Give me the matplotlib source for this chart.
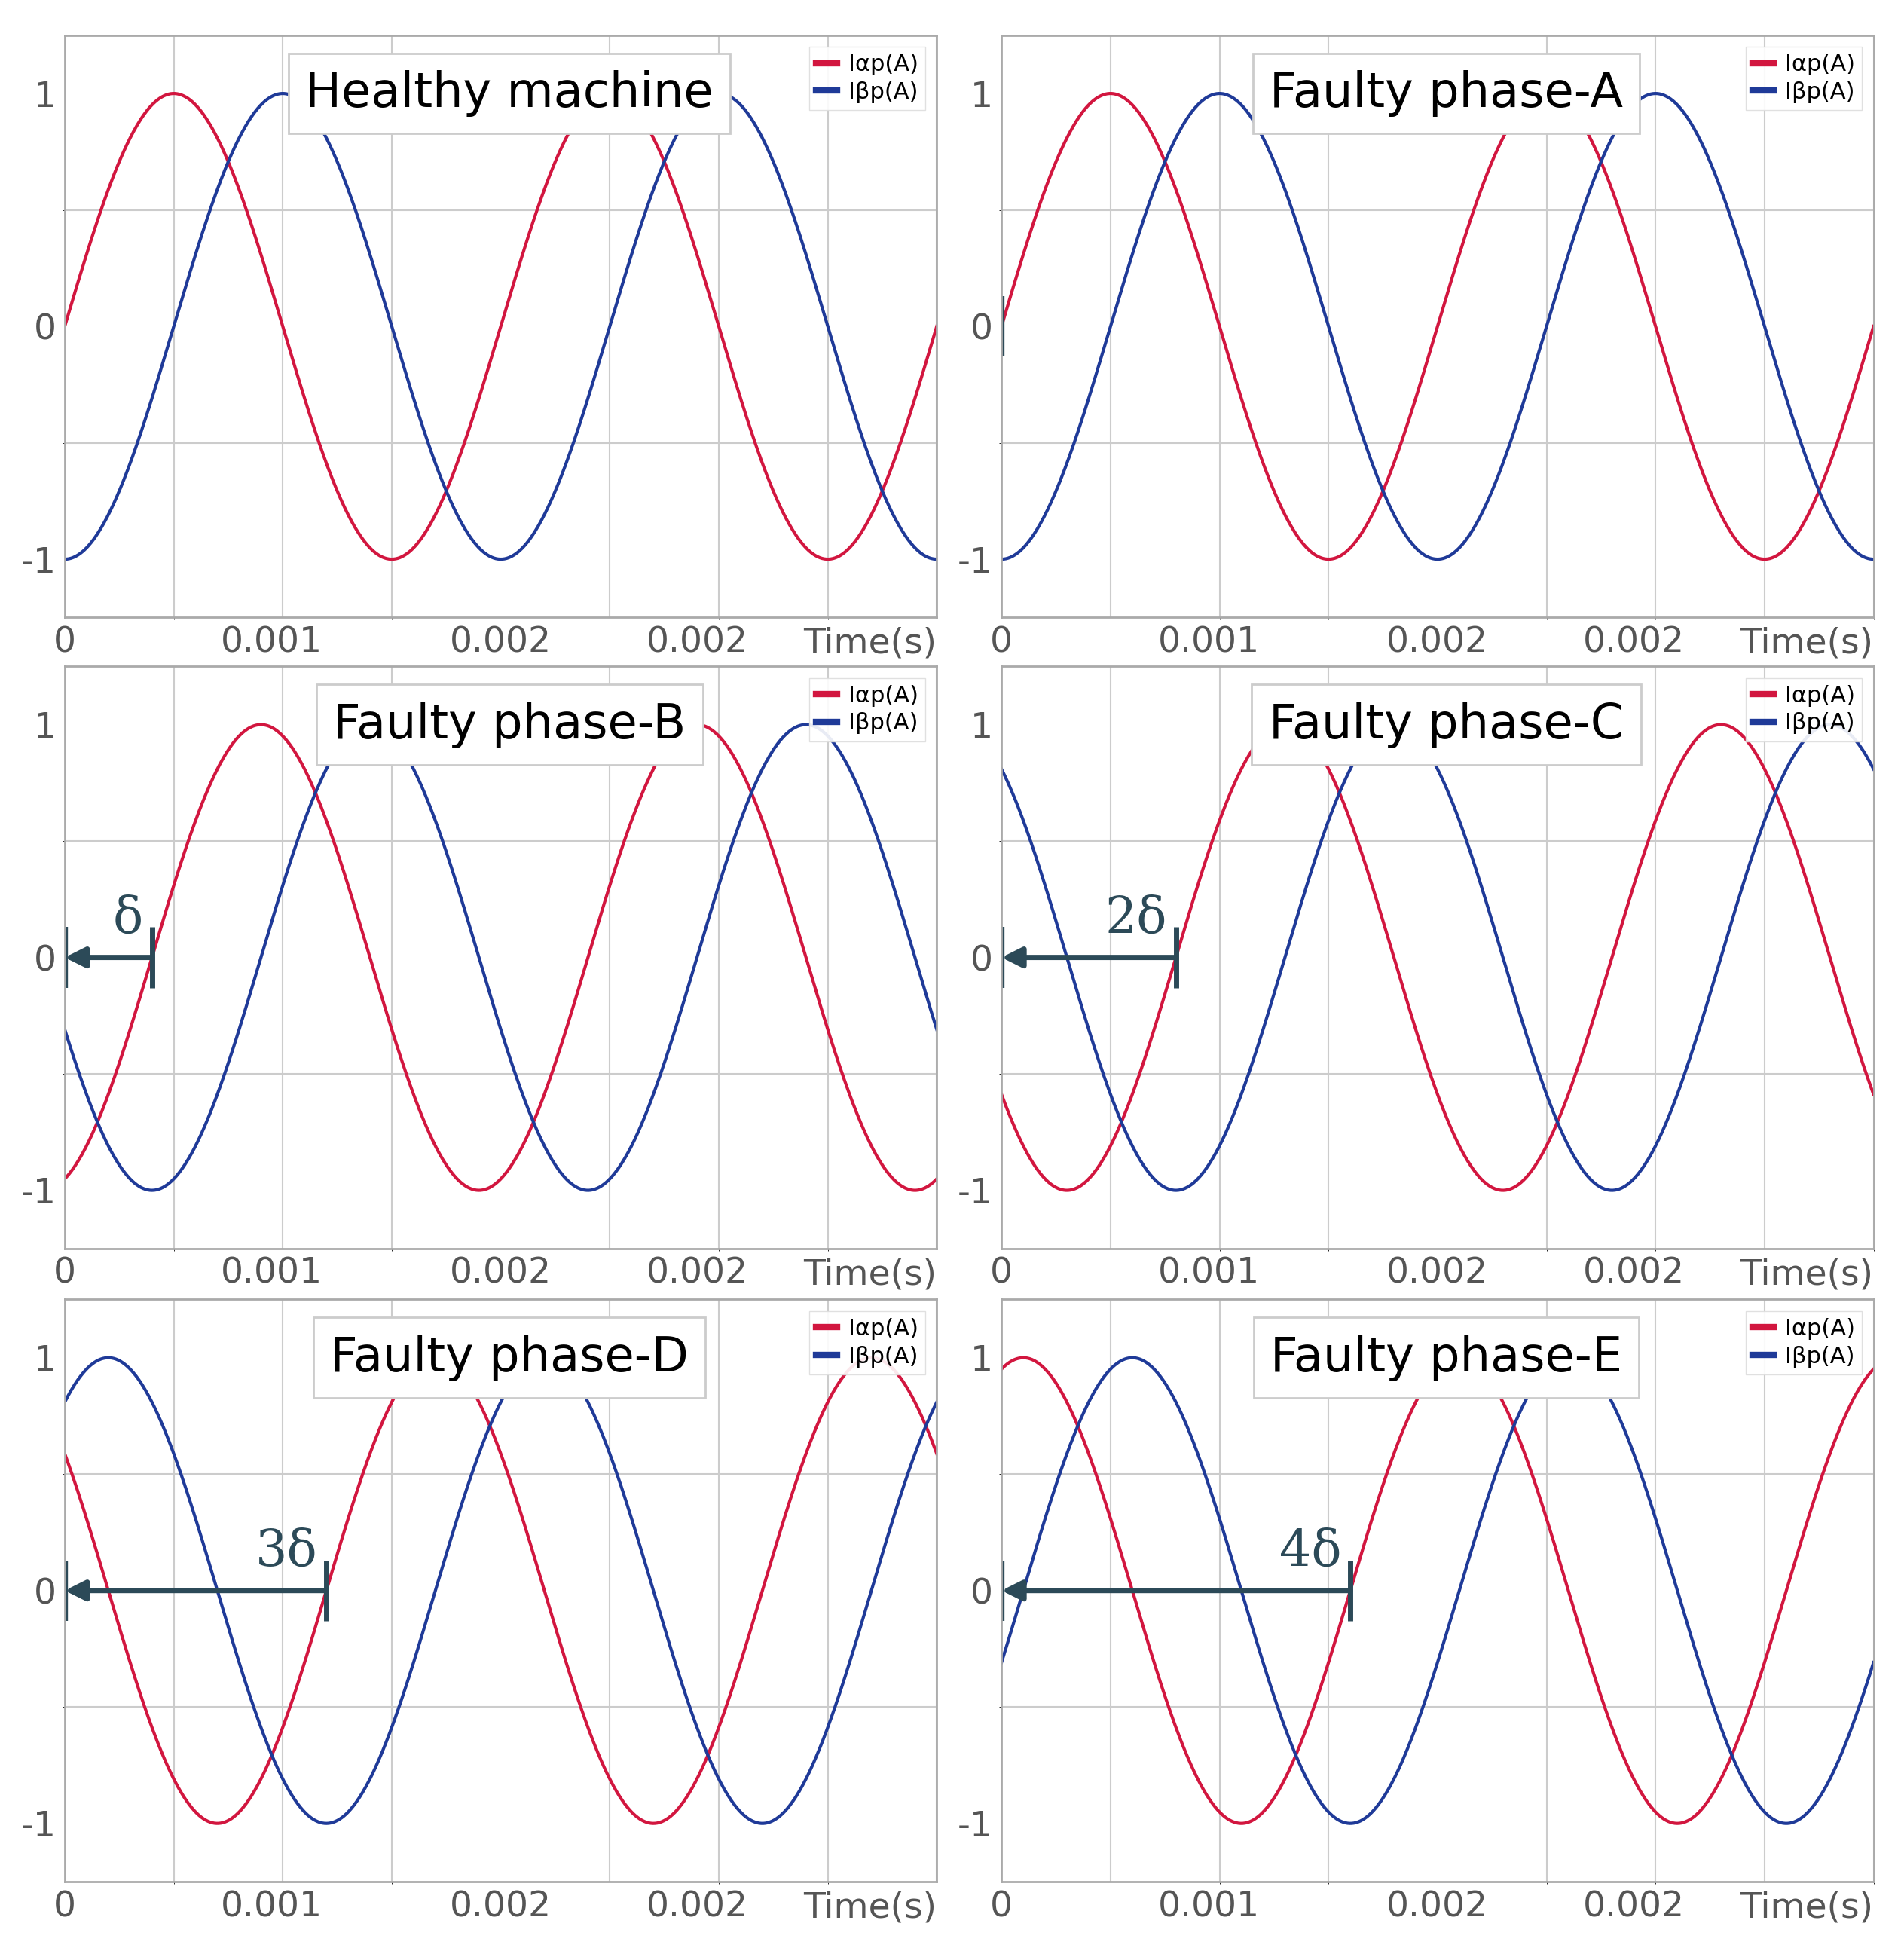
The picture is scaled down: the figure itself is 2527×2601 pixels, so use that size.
import matplotlib.pyplot as plt
import numpy as np

# panel titles and the phase delay of each faulty phase (seconds)
titles = ["Healthy machine", "Faulty phase-A", "Faulty phase-B",
          "Faulty phase-C", "Faulty phase-D", "Faulty phase-E"]
shifts = [0.0, 0.0, 0.0004, 0.0008, 0.0012, 0.0016]
delta_labels = [None, "", "δ", "2δ", "3δ", "4δ"]
period = 0.002
amplitude = 1.0
xtick_pos = [0, 0.00095, 0.002, 0.0029]
xtick_lab = ["0", "0.001", "0.002", "0.002"]

RED = "#D2163F"
BLUE = "#1F3A98"
ARROW = "#2C4A58"

fig = plt.figure(figsize=(25.27, 26.01), dpi=100)
lefts = [0.034, 0.526]
bottoms = [1 - 0.315, 1 - 0.637, 1 - 0.960]
w, h = 0.458, 0.297

t = np.linspace(0, 0.004, 800)
for i, (title, s, dl) in enumerate(zip(titles, shifts, delta_labels)):
    ax = fig.add_axes([lefts[i % 2], bottoms[i // 2], w, h])
    ph = 2 * np.pi * (t - s) / period
    ax.plot(t, amplitude * np.sin(ph), color=RED, lw=3, label="Iαp(A)")
    ax.plot(t, -amplitude * np.cos(ph), color=BLUE, lw=3, label="Iβp(A)")
    ax.set_xlim(0, 0.004)
    ax.set_ylim(-1.25, 1.25)
    ax.set_xticks(np.arange(0, 0.00401, 0.0005), minor=True)
    ax.set_yticks([-1, -0.5, 0, 0.5, 1], minor=True)
    ax.grid(True, which="minor", color="#cccccc", lw=1.5)
    ax.set_xticks(xtick_pos)
    ax.set_xticklabels(xtick_lab)
    ax.set_yticks([-1, 0, 1])
    ax.set_yticklabels(["-1", "0", "1"])
    ax.tick_params(length=0, labelsize=34, labelcolor="#555555", pad=8)
    for sp in ax.spines.values():
        sp.set_color("#aaaaaa")
        sp.set_linewidth(2)
    ax.text(1.0, -0.045, "Time(s)", transform=ax.transAxes, ha="right",
            va="center", fontsize=34, color="#555555")
    ax.text(0.51, 0.9, title, transform=ax.transAxes, ha="center", va="center",
            fontsize=46, bbox=dict(boxstyle="square,pad=0.35", fc="white",
                                   ec="#cccccc", lw=2))
    leg = ax.legend(loc="upper right", fontsize=22, handlelength=0.9,
                    borderpad=0.3, labelspacing=0.25, handletextpad=0.5,
                    fancybox=False, edgecolor="#dddddd", framealpha=0.9)
    for ln in leg.get_lines():
        ln.set_linewidth(6)
    if dl is not None:
        ax.plot([0, 0], [-0.13, 0.13], color=ARROW, lw=6, solid_capstyle="butt")
        if s > 0:
            ax.plot([s, s], [-0.13, 0.13], color=ARROW, lw=5, solid_capstyle="butt")
            ax.annotate("", xy=(0, 0), xytext=(s, 0),
                        arrowprops=dict(arrowstyle="-|>", color=ARROW, lw=5,
                                        mutation_scale=40, shrinkA=0, shrinkB=0))
            ax.text(s - 0.00004, 0.06, dl, ha="right", va="bottom",
                    fontsize=48, color=ARROW, family="DejaVu Serif")

fig.savefig("out.png", dpi=100)
